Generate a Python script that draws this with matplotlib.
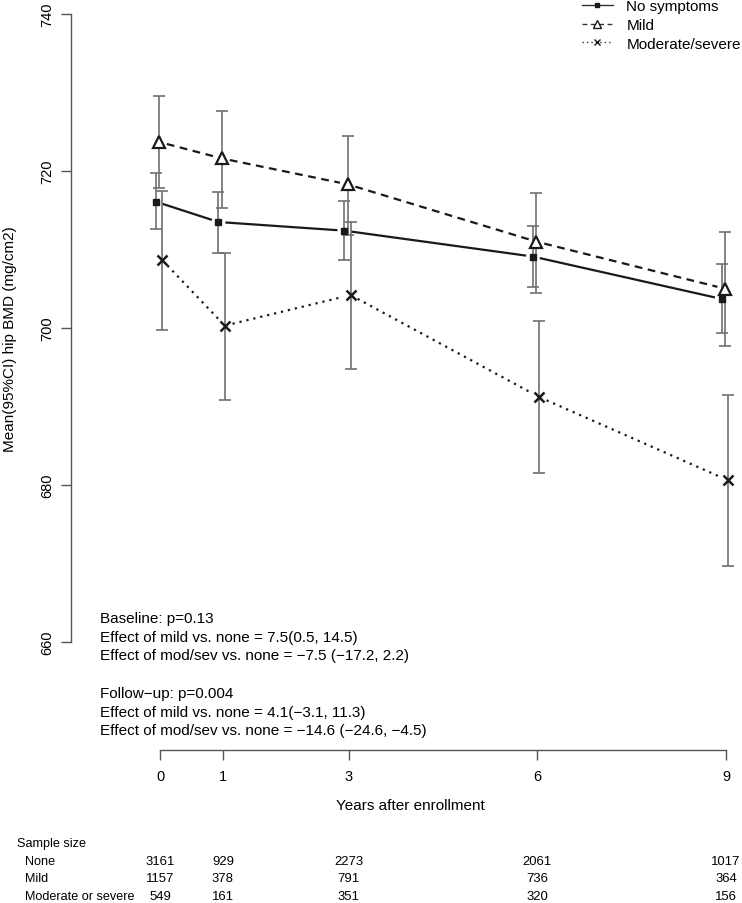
import numpy as np
import matplotlib
matplotlib.use("Agg")
import matplotlib.pyplot as plt
from matplotlib import font_manager
from matplotlib.lines import Line2D
from matplotlib.transforms import blended_transform_factory

plt.rcParams.update({
    'font.family': ['Liberation Sans', 'DejaVu Sans'],
    'font.size': 11,
    'axes.unicode_minus': True,
})

# narrow face for ticks and the sample size table, if it is installed
installed = {f.name for f in font_manager.fontManager.ttflist}
if 'Liberation Sans Narrow' in installed:
    narrow, nscale = 'Liberation Sans Narrow', 1.0
else:
    narrow, nscale = 'Liberation Sans', 0.84

# data
years = [0, 1, 3, 6, 9]

none_mean = [716.1, 713.5, 712.4, 709.1, 703.7]
none_lo = [712.6, 709.6, 708.6, 705.2, 699.3]
none_hi = [719.7, 717.3, 716.2, 713.0, 708.1]

mild_mean = [723.7, 721.6, 718.3, 711.0, 705.0]
mild_lo = [717.8, 715.3, 711.9, 704.5, 697.7]
mild_hi = [729.5, 727.7, 724.4, 717.2, 712.2]

mod_mean = [708.7, 700.3, 704.2, 691.2, 680.6]
mod_lo = [699.8, 690.8, 694.8, 681.5, 669.7]
mod_hi = [717.4, 709.6, 713.5, 700.9, 691.5]

series_labels = ["No symptoms", "Mild", "Moderate/severe"]

notes = [
    "Baseline: p=0.13",
    "Effect of mild vs. none = 7.5(0.5, 14.5)",
    "Effect of mod/sev vs. none = \u22127.5 (\u221217.2, 2.2)",
    "Follow\u2212up: p=0.004",
    "Effect of mild vs. none = 4.1(\u22123.1, 11.3)",
    "Effect of mod/sev vs. none = \u221214.6 (\u221224.6, \u22124.5)",
]

size_rows = ["None", "Mild", "Moderate or severe"]
size_none = [3161, 929, 2273, 2061, 1017]
size_mild = [1157, 378, 791, 736, 364]
size_mod = [549, 161, 351, 320, 156]

W, H = 742, 904
fig = plt.figure(figsize=(W / 100, H / 100), dpi=100)


def fx(px):
    return px / W


def fy(py):
    return 1 - py / H


ax = fig.add_axes([fx(71), fy(751), fx(742) - fx(71), fy(15) - fy(751)])
ax.set_xlim(-1.415, 9.253)
ax.set_ylim(646.24, 740)

for s in ['top', 'right']:
    ax.spines[s].set_visible(False)
for s in ['left', 'bottom']:
    ax.spines[s].set_color('#555555')
    ax.spines[s].set_linewidth(1.0)
ax.spines['left'].set_bounds(660, 740)
ax.spines['bottom'].set_bounds(0, 9)
ax.set_xticks(years)
ax.set_yticks([660, 680, 700, 720, 740])
ax.tick_params(axis='both', length=7, width=1.0, color='#555555')
ax.tick_params(axis='x', pad=7)
ax.tick_params(axis='y', pad=5, labelrotation=90)
for lab in ax.get_xticklabels() + ax.get_yticklabels():
    lab.set_fontfamily(narrow)
    lab.set_fontsize(12.5 * nscale)
plt.setp(ax.get_yticklabels(), va='center')

line_col = '#1a1a1a'
err_col = '#707070'


def gapped_line(x, y, gap, **kw):
    # line between points with a small gap around each marker (like R type="b")
    pts = ax.transData.transform(np.column_stack([x, y]))
    inv = ax.transData.inverted()
    for p, q in zip(pts[:-1], pts[1:]):
        d = q - p
        u = d / np.hypot(*d)
        seg = inv.transform(np.array([p + u * gap, q - u * gap]))
        ax.plot(seg[:, 0], seg[:, 1], color=line_col, zorder=2, **kw)


styles = [
    (none_mean, none_lo, none_hi, -0.07,
     dict(ls='-', lw=1.6), dict(marker='s', ms=4.5, mfc=line_col, mec=line_col)),
    (mild_mean, mild_lo, mild_hi, -0.015,
     dict(ls=(0, (3.5, 2.5)), lw=1.6), dict(marker='^', ms=8.5, mfc='white', mec=line_col, mew=1.6)),
    (mod_mean, mod_lo, mod_hi, 0.03,
     dict(ls=(0, (1, 2.2)), lw=1.6), dict(marker='x', ms=6.5, mec=line_col, mew=1.8)),
]

for mean, lo, hi, off, lkw, mkw in styles:
    x = np.array(years) + off
    mean = np.array(mean)
    yerr = [mean - np.array(lo), np.array(hi) - mean]
    gapped_line(x, mean, 8, **lkw)
    ax.errorbar(x, mean, yerr=yerr, fmt='none', ecolor=err_col, elinewidth=1.2,
                capsize=4, capthick=1.2, zorder=3)
    ax.plot(x, mean, ls='none', zorder=4, **mkw)

# legend
handles = []
for (_, _, _, _, lkw, mkw) in styles:
    handles.append(Line2D([], [], color='#333333', ls=lkw['ls'], lw=1.0,
                          marker=mkw['marker'], ms=mkw['ms'] * 0.75,
                          mfc=mkw.get('mfc', 'none'), mec=mkw['mec'], mew=1.0))
fig.legend(handles, series_labels, loc='upper left', bbox_to_anchor=(fx(582), fy(0)),
           frameon=False, borderpad=0, borderaxespad=0, handlelength=2.0,
           handletextpad=0.9, labelspacing=0.32, fontsize=11, numpoints=1)

# axis labels
ax.set_xlabel("Years after enrollment", fontsize=11)
ax.xaxis.label.set_va('center')
ax.xaxis.set_label_coords(fx(410), fy(806), transform=fig.transFigure)
ax.set_ylabel("Mean(95%CI) hip BMD (mg/cm2)", fontsize=11)
ax.yaxis.label.set_va('center')
ax.yaxis.set_label_coords(fx(10), fy(339), transform=fig.transFigure)

# annotation text
note_y = [619, 638, 656, 694, 713, 731]
for txt, yy in zip(notes, note_y):
    fig.text(fx(100), fy(yy), txt, ha='left', va='center', fontsize=11)

# sample size table
lsize = 10.8 * nscale
nsize = 11.3 * nscale
fig.text(fx(17), fy(844), "Sample size", ha='left', va='center',
         fontsize=lsize, family=narrow)
tr = blended_transform_factory(ax.transData, fig.transFigure)
row_y = [862, 879, 897]
for name, vals, yy in zip(size_rows, [size_none, size_mild, size_mod], row_y):
    fig.text(fx(25), fy(yy), name, ha='left', va='center', fontsize=lsize, family=narrow)
    for yr, v in zip(years, vals):
        ax.text(yr, fy(yy), str(v), transform=tr, ha='center', va='center',
                fontsize=nsize, family=narrow, clip_on=False)

fig.savefig("out.png", dpi=100)
